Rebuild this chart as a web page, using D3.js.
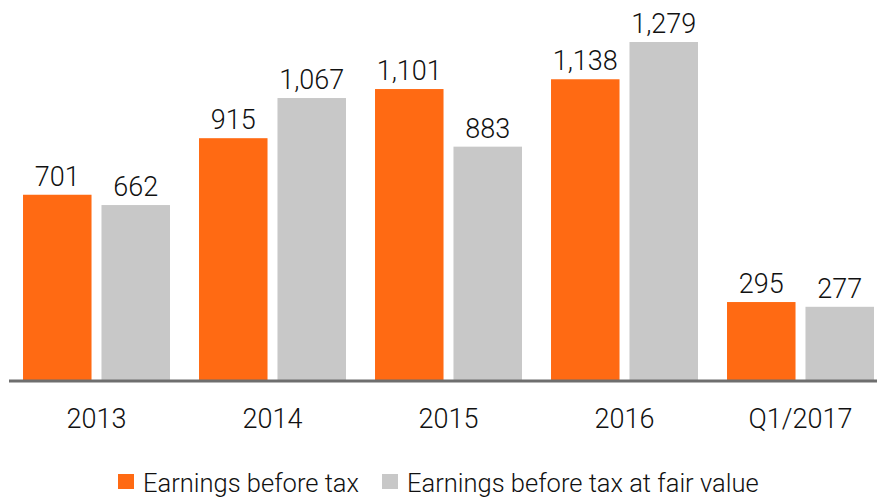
<!DOCTYPE html>
<html>
<head>
<meta charset="utf-8">
<script src="https://cdn.jsdelivr.net/npm/d3@7"></script>
<style>
  body { margin: 0; background: #fff; }
  text { font-family: Roboto, "Noto Sans", sans-serif; font-weight: 300; fill: #111; }
</style>
</head>
<body>
<div class="chart"></div>
<script>
var categories = ["2013", "2014", "2015", "2016", "Q1/2017"];
var seriesNames = ["Earnings before tax", "Earnings before tax at fair value"];
var earnings = [701, 915, 1101, 1138, 295];
var fairValue = [662, 1067, 883, 1279, 277];
var colors = ["#ff6a13", "#c8c8c8"];

var width = 877, height = 499;
var baseY = 380;

var svg = d3.select(".chart").append("svg")
	.attr("width", width)
	.attr("height", height);

var x0 = d3.scaleBand()
	.domain(categories)
	.range([8.5, 888.5])
	.paddingInner(0.165)
	.paddingOuter(0.0825);

var x1 = d3.scaleBand()
	.domain(seriesNames)
	.range([0, x0.bandwidth()])
	.paddingInner(0.127);

var y = d3.scaleLinear()
	.domain([0, 1279])
	.range([baseY, 42]);

var rows = categories.map(function(c, i) {
	return { cat: c, values: [earnings[i], fairValue[i]] };
});

var groups = svg.selectAll("g.group")
	.data(rows)
	.enter().append("g")
	.attr("class", "group")
	.attr("transform", function(d) { return "translate(" + x0(d.cat) + ",0)"; });

groups.selectAll("rect")
	.data(function(d) { return d.values.map(function(v, j) { return { s: seriesNames[j], v: v, j: j }; }); })
	.enter().append("rect")
	.attr("x", function(d) { return x1(d.s); })
	.attr("y", function(d) { return y(d.v); })
	.attr("width", x1.bandwidth())
	.attr("height", function(d) { return baseY - y(d.v); })
	.attr("fill", function(d) { return colors[d.j]; });

groups.selectAll("text.val")
	.data(function(d) { return d.values.map(function(v, j) { return { s: seriesNames[j], v: v }; }); })
	.enter().append("text")
	.attr("class", "val")
	.attr("x", function(d) { return x1(d.s) + x1.bandwidth() / 2; })
	.attr("y", function(d) { return y(d.v) - 9; })
	.attr("text-anchor", "middle")
	.style("font-size", "27px")
	.text(function(d) { return d3.format(",")(d.v); });

// baseline + category labels
svg.append("line")
	.attr("x1", 9).attr("x2", width)
	.attr("y1", baseY + 1).attr("y2", baseY + 1)
	.attr("stroke", "#6e6e6e")
	.attr("stroke-width", 3);

svg.selectAll("text.cat")
	.data(categories)
	.enter().append("text")
	.attr("class", "cat")
	.attr("x", function(d) { return x0(d) + x0.bandwidth() / 2; })
	.attr("y", 428)
	.attr("text-anchor", "middle")
	.style("font-size", "27px")
	.text(function(d) { return d; });

// legend
var legendX = [118, 382];
var legend = svg.selectAll("g.legend")
	.data(seriesNames)
	.enter().append("g")
	.attr("class", "legend")
	.attr("transform", function(d, i) { return "translate(" + legendX[i] + ",474)"; });

legend.append("rect")
	.attr("width", 16).attr("height", 15)
	.attr("fill", function(d, i) { return colors[i]; });

legend.append("text")
	.attr("x", 25)
	.attr("y", 18)
	.style("font-size", "25.5px")
	.text(function(d) { return d; });
</script>
</body>
</html>
